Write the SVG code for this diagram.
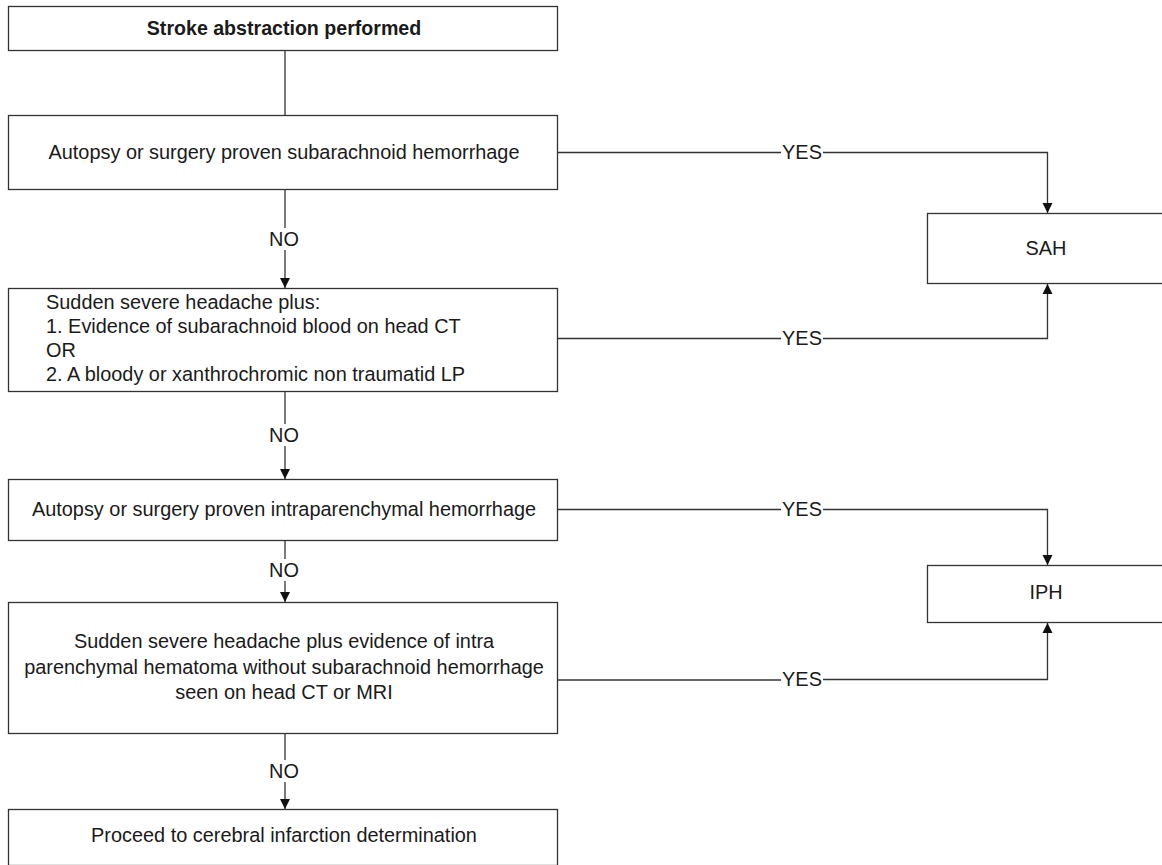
<svg xmlns="http://www.w3.org/2000/svg" width="1162" height="865" viewBox="0 0 1162 865">
<style>
.box{fill:#fff;stroke:#333;stroke-width:1.3}
.t{font-family:"Liberation Sans",Arial,sans-serif;font-size:19.9px;fill:#1a1a1a}
.c{text-anchor:middle}
.b{font-weight:bold;font-size:19.6px}
.ln{fill:none;stroke:#333;stroke-width:1.3}
.lbl{font-family:"Liberation Sans",Arial,sans-serif;font-size:19.9px;fill:#1a1a1a;text-anchor:middle}
</style>
<defs>
<marker id="ah" viewBox="0 0 10 12" refX="10" refY="6" markerWidth="10" markerHeight="12" markerUnits="userSpaceOnUse" orient="auto">
<path d="M0,1 L10,6 L0,11 Z" fill="#111"/>
</marker>
</defs>
<rect width="1162" height="865" fill="#fff"/>
<g id="connectors">
<path class="ln" d="M285,50.5 V115.5"/>
<path class="ln" d="M285,189.5 V228"/>
<path class="ln" d="M285,250 V288" marker-end="url(#ah)"/>
<path class="ln" d="M285,391.5 V424"/>
<path class="ln" d="M285,446 V479" marker-end="url(#ah)"/>
<path class="ln" d="M285,540.5 V559"/>
<path class="ln" d="M285,581 V602" marker-end="url(#ah)"/>
<path class="ln" d="M285,733.5 V760"/>
<path class="ln" d="M285,782 V809" marker-end="url(#ah)"/>
<path class="ln" d="M557.5,152.5 H781"/>
<path class="ln" d="M823,152.5 H1047.5 V213" marker-end="url(#ah)"/>
<path class="ln" d="M557.5,338.5 H781"/>
<path class="ln" d="M823,338.5 H1047.5 V284" marker-end="url(#ah)"/>
<path class="ln" d="M557.5,509.5 H781"/>
<path class="ln" d="M823,509.5 H1047.5 V565" marker-end="url(#ah)"/>
<path class="ln" d="M557.5,680 H781"/>
<path class="ln" d="M823,679.5 H1047.5 V623" marker-end="url(#ah)"/>
<text class="lbl" x="284" y="246">NO</text>
<text class="lbl" x="284" y="442">NO</text>
<text class="lbl" x="284" y="577">NO</text>
<text class="lbl" x="284" y="778">NO</text>
<text class="lbl" x="802" y="159">YES</text>
<text class="lbl" x="802" y="345">YES</text>
<text class="lbl" x="802" y="516">YES</text>
<text class="lbl" x="802" y="686">YES</text>
</g>
<g id="start">
<rect class="box" x="8.5" y="6.5" width="549" height="44"/>
<text class="t c b" x="284" y="35">Stroke abstraction performed</text>
</g>
<g id="q1">
<rect class="box" x="8.5" y="115.5" width="549" height="74"/>
<text class="t c" x="284" y="159">Autopsy or surgery proven subarachnoid hemorrhage</text>
</g>
<g id="q2">
<rect class="box" x="8.5" y="288.5" width="549" height="103"/>
<text class="t" x="46" y="309">Sudden severe headache plus:</text>
<text class="t" x="46" y="333">1. Evidence of subarachnoid blood on head CT</text>
<text class="t" x="46" y="357">OR</text>
<text class="t" x="46" y="381">2. A bloody or xanthrochromic non traumatid LP</text>
</g>
<g id="q3">
<rect class="box" x="8.5" y="479.5" width="549" height="61"/>
<text class="t c" x="284" y="516">Autopsy or surgery proven intraparenchymal hemorrhage</text>
</g>
<g id="q4">
<rect class="box" x="8.5" y="602.5" width="549" height="131"/>
<text class="t c" x="284" y="648">Sudden severe headache plus evidence of intra</text>
<text class="t c" x="284" y="674">parenchymal hematoma without subarachnoid hemorrhage</text>
<text class="t c" x="284" y="699">seen on head CT or MRI</text>
</g>
<g id="proceed">
<rect class="box" x="8.5" y="809.5" width="549" height="56"/>
<text class="t c" x="284" y="842">Proceed to cerebral infarction determination</text>
</g>
<g id="sah">
<rect class="box" x="927.5" y="213.5" width="240" height="70"/>
<text class="t c" x="1046" y="255">SAH</text>
</g>
<g id="iph">
<rect class="box" x="927.5" y="565.5" width="240" height="57"/>
<text class="t c" x="1046" y="599">IPH</text>
</g>
</svg>
